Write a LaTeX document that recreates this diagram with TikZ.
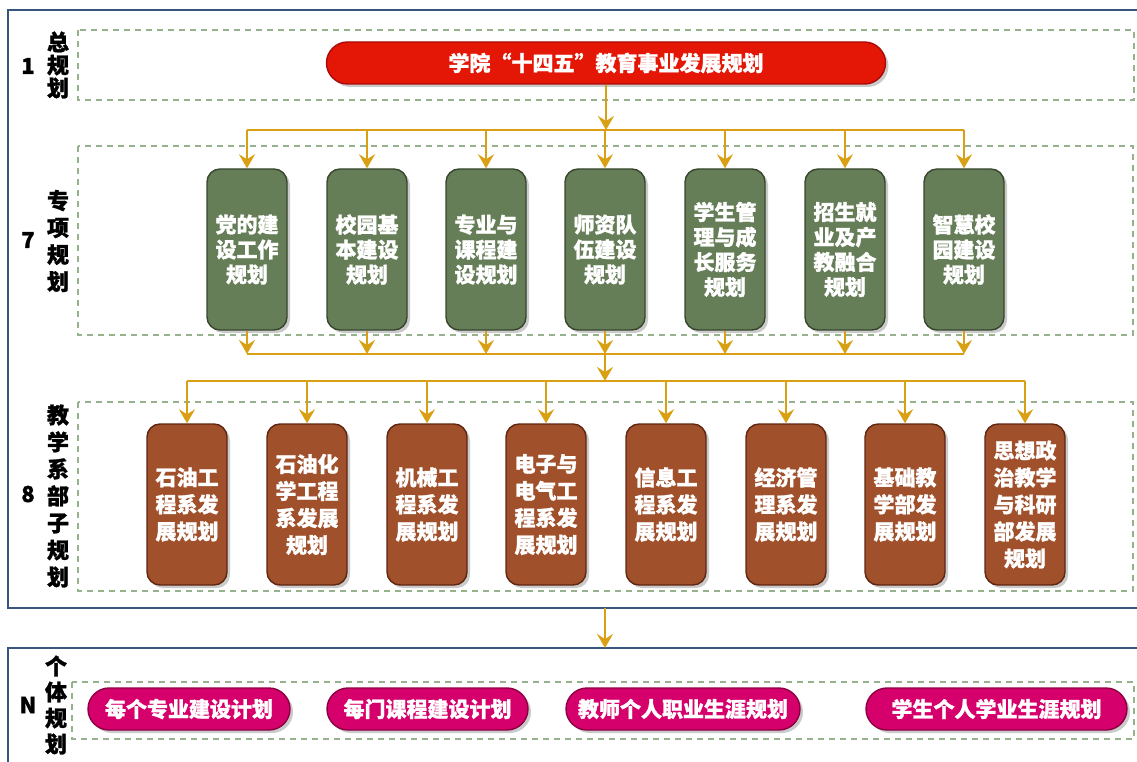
\documentclass[tikz,border=0pt]{standalone}
\usepackage{fontspec}
\newfontfamily\cjk[BoldFeatures={FakeBold=1.2}]{Noto Sans CJK SC}
\usetikzlibrary{arrows.meta,shadows,shapes.misc}
\definecolor{redF}{RGB}{228,22,5}
\definecolor{redD}{RGB}{170,10,10}
\definecolor{greenF}{RGB}{102,126,88}
\definecolor{greenD}{RGB}{55,70,45}
\definecolor{brownF}{RGB}{160,80,42}
\definecolor{brownD}{RGB}{95,38,18}
\definecolor{pinkF}{RGB}{214,0,108}
\definecolor{pinkD}{RGB}{140,0,65}
\definecolor{gold}{RGB}{216,160,18}
\definecolor{dashG}{RGB}{150,178,140}
\definecolor{frameB}{RGB}{55,85,125}
\begin{document}
\begin{tikzpicture}[x=1pt,y=-1pt,
  shad/.style={drop shadow={shadow xshift=3pt,shadow yshift=-3pt,opacity=0.35,fill=black!60}},
  tall/.style={shad,draw,line width=1.4pt,rounded corners=13pt,minimum width=80pt,minimum height=161pt,
    inner sep=0pt,align=center,text=white,font=\cjk\bfseries\fontsize{21}{25}\selectfont},
  gbox/.style={tall,fill=greenF,draw=greenD},
  bbox/.style={tall,fill=brownF,draw=brownD,font=\cjk\bfseries\fontsize{21}{27}\selectfont},
  pill/.style={shad,rounded rectangle,draw,line width=1.4pt,minimum height=42pt,inner sep=0pt,
    text=white,font=\cjk\bfseries\fontsize{21}{25}\selectfont},
  pbox/.style={pill,fill=pinkF,draw=pinkD},
  region/.style={draw=dashG,line width=1.3pt,dash pattern=on 6pt off 5pt},
  frame/.style={draw=frameB,line width=2pt},
  conn/.style={draw=gold,line width=2.8pt},
  arr/.style={conn,-{Stealth[length=14pt,width=16pt,inset=5pt]}},
  lab/.style={font=\cjk\bfseries\fontsize{22}{23}\selectfont,align=center,inner sep=0pt}
]
\useasboundingbox (0,0) rectangle (1137,762);
% outer frames
\draw[frame] (8,10) rectangle (1150,608);
\draw[frame] (8,648) rectangle (1150,780);
% dashed regions
\draw[region] (78,30) rectangle (1134,100);
\draw[region] (78,146) rectangle (1133,335);
\draw[region] (78,402) rectangle (1133,591);
\draw[region] (72,682) rectangle (1134,739);
% labels
\node[lab] (n1) at (28,66) {1};
\node[lab] (t1) at (58,65) {总\\规\\划};
\node[lab] (n7) at (28,240) {7};
\node[lab,font=\cjk\bfseries\fontsize{22}{27}\selectfont] (t7) at (58,241) {专\\项\\规\\划};
\node[lab] (n8) at (28,494) {8};
\node[lab,font=\cjk\bfseries\fontsize{22}{27}\selectfont] (t8) at (58,496) {教\\学\\系\\部\\子\\规\\划};
\node[lab] (nN) at (28,705) {N};
\node[lab,font=\cjk\bfseries\fontsize{22}{26}\selectfont] (tN) at (56,705) {个\\体\\规\\划};
% top node
\node[pill,fill=redF,draw=redD,minimum width=559pt] (top) at (606,63) {学院“十四五”教育事业发展规划};
% green row
\node[gbox] (g1) at (247,249.5) {党的建\\设工作\\规划};
\node[gbox] (g2) at (367,249.5) {校园基\\本建设\\规划};
\node[gbox] (g3) at (486,249.5) {专业与\\课程建\\设规划};
\node[gbox] (g4) at (605,249.5) {师资队\\伍建设\\规划};
\node[gbox] (g5) at (725,249.5) {学生管\\理与成\\长服务\\规划};
\node[gbox] (g6) at (845,249.5) {招生就\\业及产\\教融合\\规划};
\node[gbox] (g7) at (964,249.5) {智慧校\\园建设\\规划};
% brown row
\node[bbox] (b1) at (187,504.5) {石油工\\程系发\\展规划};
\node[bbox] (b2) at (307,504.5) {石油化\\学工程\\系发展\\规划};
\node[bbox] (b3) at (427,504.5) {机械工\\程系发\\展规划};
\node[bbox] (b4) at (546,504.5) {电子与\\电气工\\程系发\\展规划};
\node[bbox] (b5) at (666,504.5) {信息工\\程系发\\展规划};
\node[bbox] (b6) at (786,504.5) {经济管\\理系发\\展规划};
\node[bbox] (b7) at (905,504.5) {基础教\\学部发\\展规划};
\node[bbox] (b8) at (1025,504.5) {思想政\\治教学\\与科研\\部发展\\规划};
% pink row
\node[pbox,minimum width=202pt] (p1) at (189,709) {每个专业建设计划};
\node[pbox,minimum width=201pt] (p2) at (427.5,709) {每门课程建设计划};
\node[pbox,minimum width=234pt] (p3) at (683,709) {教师个人职业生涯规划};
\node[pbox,minimum width=261pt] (p4) at (996.5,709) {学生个人学业生涯规划};
% connectors
\coordinate (j1) at (606,130);
\coordinate (j2) at (605,354);
\coordinate (j3) at (605,381);
\coordinate (f1) at (605,608);
\coordinate (f2) at (605,648);
\draw[arr] (top.south) -- (j1);
\draw[conn] (g1 |- j1) -- (g7 |- j1);
\foreach \i in {1,...,7}{\draw[arr] (g\i |- j1) -- (g\i.north);}
\foreach \i in {1,...,7}{\draw[arr] (g\i.south) -- (g\i |- j2);}
\draw[conn] (g1 |- j2) -- (g7 |- j2);
\draw[arr] (j2) -- (j3);
\draw[conn] (b1 |- j3) -- (b8 |- j3);
\foreach \i in {1,...,8}{\draw[arr] (b\i |- j3) -- (b\i.north);}
\draw[arr,line width=2.4pt] (f1) -- (f2);
\end{tikzpicture}
\end{document}
